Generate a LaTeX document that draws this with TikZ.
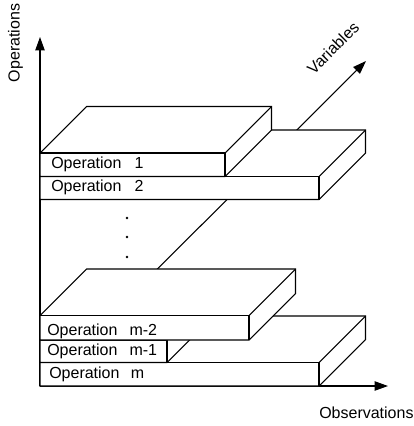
\documentclass[tikz,border=0pt]{standalone}
\usepackage{fontspec}
\setmainfont{Liberation Sans}
\usetikzlibrary{arrows.meta}
\newcommand\dd{46.5}
\newcommand\labelfont{\fontsize{12pt}{14pt}\selectfont}
% left, right, top, bottom (image pixel coordinates)
\newcommand\myslab[4]{%
  \filldraw[slab] (#1,#4) -- (#2,#4) -- (#2+\dd,#4-\dd) -- (#2+\dd,#3-\dd)
     -- (#1+\dd,#3-\dd) -- (#1,#3) -- cycle;
  \draw[edge] (#1,#3) -- (#2,#3) -- (#2,#4);
  \draw[edge] (#2,#3) -- (#2+\dd,#3-\dd);
}
\begin{document}
\begin{tikzpicture}[x=0.75pt,y=-0.75pt,
  edge/.style={line width=0.8pt, line join=miter},
  axis/.style={line width=0.8pt, -{Triangle[length=10pt,width=7pt]}},
  slab/.style={edge, fill=white},
  lbl/.style={inner sep=0pt, font=\labelfont},
  dotmark/.style={circle, fill=black, inner sep=0pt, minimum size=2.2pt}]
\useasboundingbox (0,0) rectangle (414,426);
% axes
\coordinate (O) at (40,386);
\coordinate (ytip) at (40,37);
\coordinate (xtip) at (388,386);
\coordinate (vtip) at (366,61);
\draw[axis] (O) -- (ytip);
\draw[axis] (O) -- (xtip);
\draw[axis] (O) -- (vtip);
\node[lbl, rotate=90, anchor=base] (yl) at (19.5,43) {Operations};
\node[lbl, anchor=base west] (xl) at (319,418) {Observations};
\node[lbl, rotate=45] (vl) at (333,48) {Variables};
% slabs, back to front
\myslab{40}{319}{362.5}{386}
\myslab{40}{167}{340}{362.5}
\myslab{40}{249}{315.5}{340}
\myslab{40}{319}{176.5}{199.5}
\myslab{40}{225}{153}{176.5}
% labels
\node[lbl, anchor=base west] (op1) at (51,168) {Operation\hspace{9.75pt}1};
\node[lbl, anchor=base west] (op2) at (51,191.5) {Operation\hspace{9.75pt}2};
\node[lbl, anchor=base west] (opm2) at (47,335) {Operation\hspace{9pt}m-2};
\node[lbl, anchor=base west] (opm1) at (47,355) {Operation\hspace{9pt}m-1};
\node[lbl, anchor=base west] (opm) at (49,378) {Operation\hspace{8.5pt}m};
% dots
\node[dotmark] (d1) at (127,218) {};
\node[dotmark] (d2) at (127,237) {};
\node[dotmark] (d3) at (127,257) {};
\end{tikzpicture}
\end{document}
